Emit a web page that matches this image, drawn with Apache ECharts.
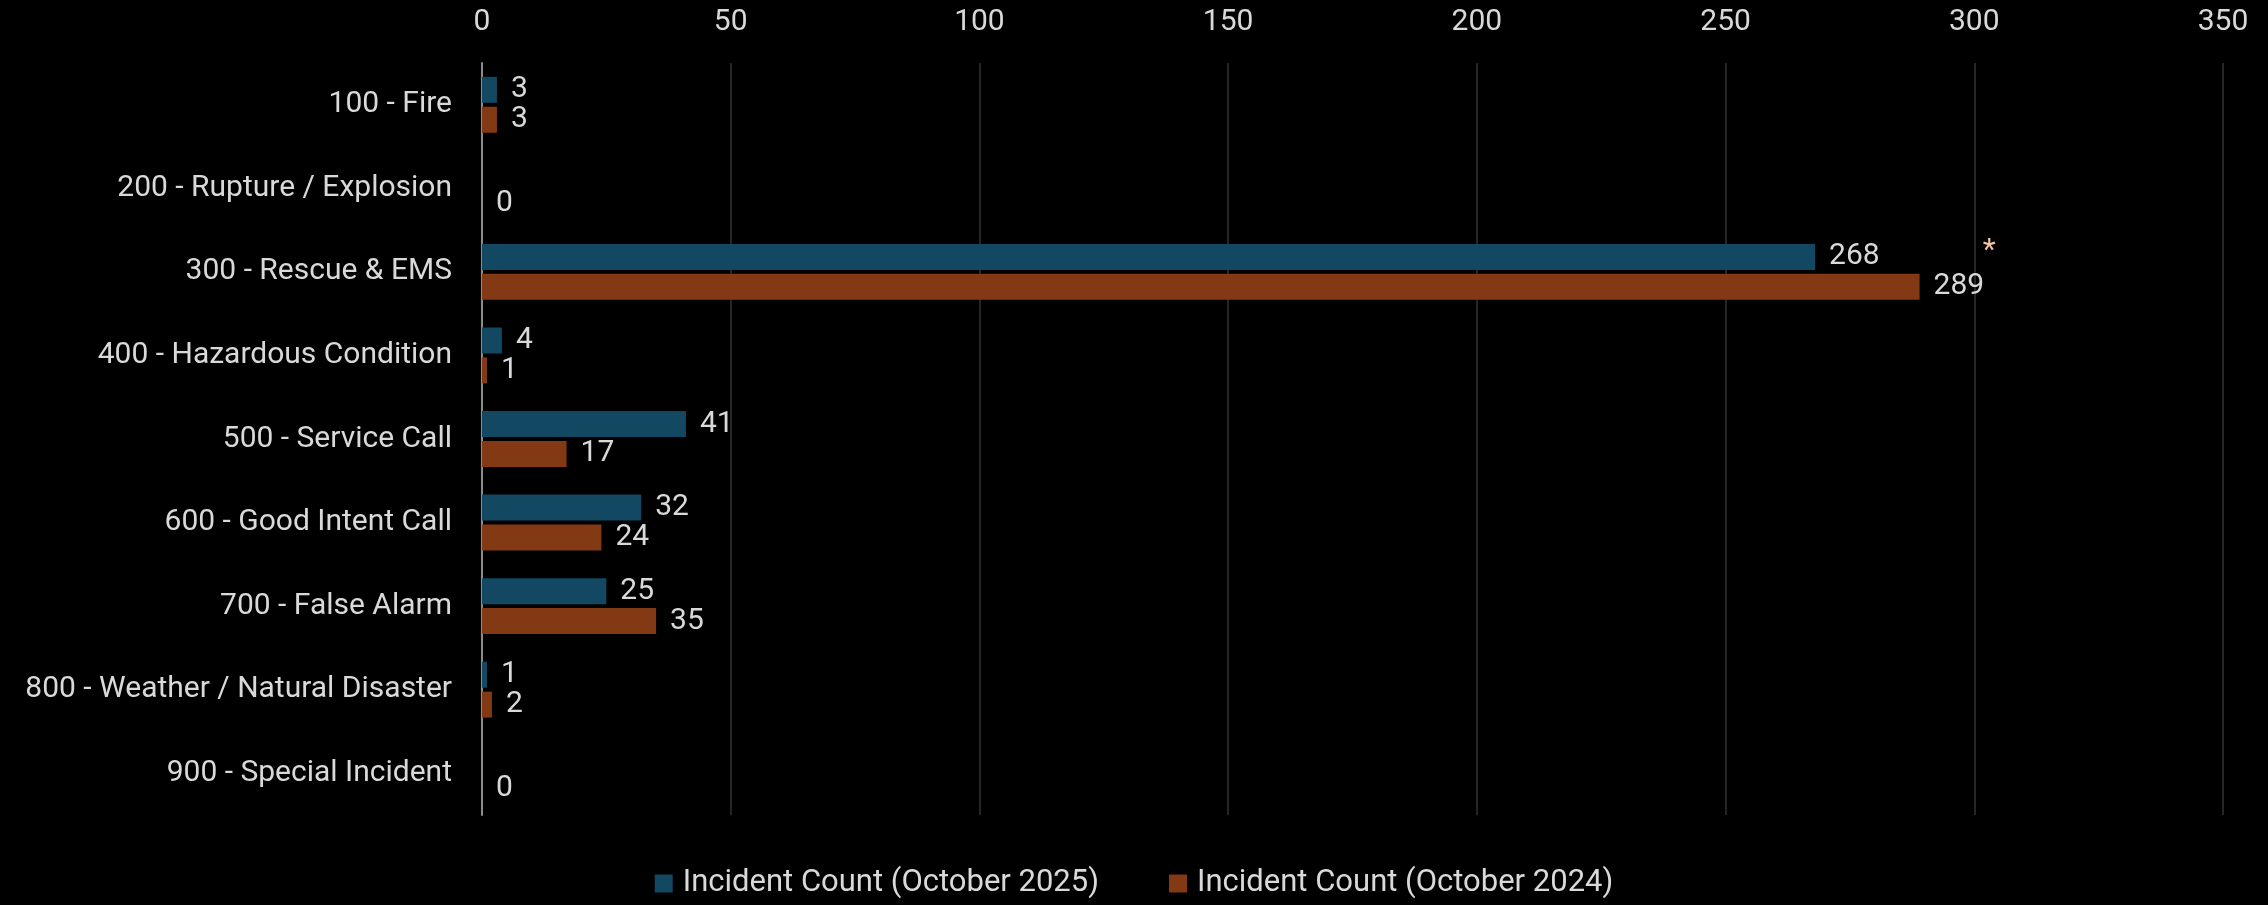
<!DOCTYPE html>
<html>
<head>
<meta charset="utf-8">
<script src="https://cdn.jsdelivr.net/npm/echarts@6/dist/echarts.min.js"></script>
<style>html,body{margin:0;padding:0;background:#000;}#c{width:2268px;height:905px;}</style>
</head>
<body>
<div id="c"></div>
<script>
const categories = ['100 - Fire','200 - Rupture / Explosion','300 - Rescue & EMS','400 - Hazardous Condition','500 - Service Call','600 - Good Intent Call','700 - False Alarm','800 - Weather / Natural Disaster','900 - Special Incident'];
const count2025 = [3,0,268,4,41,32,25,1,0];
const count2024 = [3,0,289,1,17,24,35,2,0];
const seriesNames = ['Incident Count (October 2025)','Incident Count (October 2024)'];
const axisMax = 350;
const axisInterval = 50;

const FONT = 'Roboto';
const FS = 30;
const TXT = '#d9d9d9';
const chart = echarts.init(document.getElementById('c'));
chart.setOption({
  backgroundColor: '#000000',
  textStyle: {fontFamily: FONT},
  grid: {left: 482, right: 45, top: 63, bottom: 90, containLabel: false},
  legend: {
    top: 868, left: 'center', itemWidth: 18, itemHeight: 18, itemGap: 70,
    icon: 'rect', padding: 0,
    textStyle: {color: TXT, fontSize: 31, fontFamily: FONT, padding: [0, 0, 0, 5]},
    data: seriesNames
  },
  xAxis: {
    type: 'value', position: 'top', min: 0, max: axisMax, interval: axisInterval,
    axisLine: {show: false}, axisTick: {show: false},
    axisLabel: {color: TXT, fontSize: FS, margin: 26, fontFamily: FONT},
    splitLine: {show: true, lineStyle: {color: '#262626', width: 2}}
  },
  yAxis: {
    type: 'category', data: categories, inverse: true,
    axisLine: {show: true, lineStyle: {color: '#8c8c8c', width: 2}},
    axisTick: {show: false},
    axisLabel: {color: TXT, fontSize: FS, margin: 30, fontFamily: FONT}
  },
  series: [
    {
      name: seriesNames[0], type: 'bar', data: count2025, barWidth: 26, barGap: '15%',
      itemStyle: {color: '#124862'},
      label: {show: true, position: 'right', distance: 14, color: TXT, fontSize: FS, fontFamily: FONT,
        formatter: p => p.value === 0 ? '' : String(p.value)}
    },
    {
      name: seriesNames[1], type: 'bar', data: count2024, barWidth: 26, barGap: '15%',
      itemStyle: {color: '#843915'},
      label: {show: true, position: 'right', distance: 14, color: TXT, fontSize: FS, fontFamily: FONT},
      markPoint: {
        symbol: 'circle', symbolSize: 0,
        data: [{coord: [303, categories[2]], label: {show: true, formatter: '*', color: '#f7c4a5', fontSize: 30, fontFamily: FONT, offset: [0, -35]}}]
      }
    }
  ]
});
</script>
</body>
</html>
